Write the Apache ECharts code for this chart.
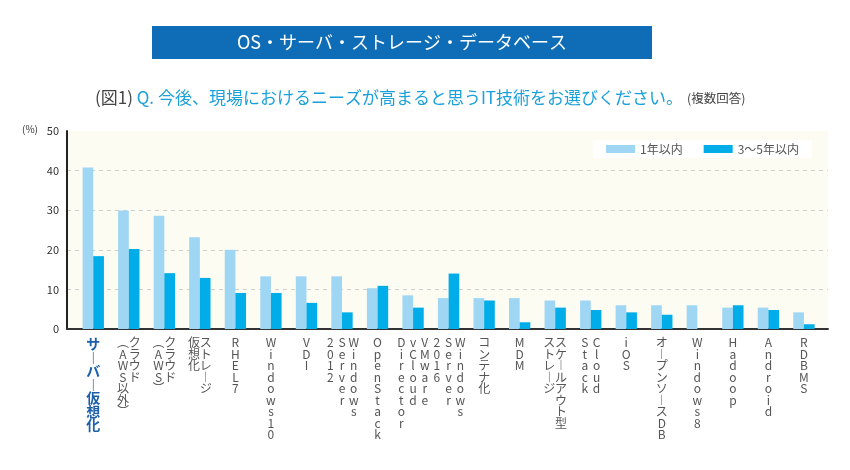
<!DOCTYPE html>
<html>
<head>
<meta charset="utf-8">
<script src="https://cdn.jsdelivr.net/npm/echarts@6/dist/echarts.min.js"></script>
<style>
html,body{margin:0;padding:0;background:#fff;}
#c{width:850px;height:470px;}
</style>
</head>
<body>
<div id="c"></div>
<script>
// Categories: '\n' separates vertical columns (first = rightmost column)
var categories = [
  'サーバー仮想化', 'クラウド\n(AWS以外)', 'クラウド\n(AWS)', 'ストレージ\n仮想化', 'RHEL7',
  'Windows10', 'VDI', 'Windows\nServer\n2012', 'OpenStack', 'VMware\nvCloud\nDirector',
  'Windows\nServer\n2016', 'コンテナ化', 'MDM', 'スケールアウト型\nストレージ', 'Cloud\nStack',
  'iOS', 'オープンソースDB', 'Windows8', 'Hadoop', 'Android', 'RDBMS'
];
var seriesNames = ['1年以内', '3〜5年以内'];
var within1Year = [40.8, 29.9, 28.6, 23.2, 20.0, 13.3, 13.3, 13.3, 10.3, 8.5, 7.8, 7.8, 7.8, 7.2, 7.2, 6.0, 6.0, 6.0, 5.4, 5.4, 4.2];
var within3to5Years = [18.4, 20.2, 14.1, 12.9, 9.1, 9.1, 6.6, 4.2, 10.9, 5.4, 14.0, 7.2, 1.7, 5.4, 4.8, 4.2, 3.6, 0, 6.0, 4.8, 1.2];
var yTicks = [0, 10, 20, 30, 40, 50];
var titleText = 'OS・サーバ・ストレージ・データベース';
var subtitleFig = '(図1) ';
var subtitleQ = 'Q. 今後、現場におけるニーズが高まると思うIT技術をお選びください。';
var subtitleNote = '(複数回答)';

var verticalMap = {'(': '︵', ')': '︶', 'ー': '︱'};

function verticalLabel(value, index) {
  var style = index === 0 ? 'b' : 'c';
  var cols = String(value).split('\n').map(function (s) {
    return Array.from(s).map(function (ch) { return verticalMap[ch] || ch; });
  });
  cols.reverse(); // leftmost column first
  var rows = 0;
  cols.forEach(function (c) { rows = Math.max(rows, c.length); });
  var lines = [];
  for (var r = 0; r < rows; r++) {
    var line = '';
    for (var k = 0; k < cols.length; k++) {
      var ch = cols[k][r];
      line += '{' + style + '|' + (ch === undefined ? ' ' : ch) + '}';
    }
    lines.push(line);
  }
  return lines.join('\n');
}

var chart = echarts.init(document.getElementById('c'), null, {renderer: 'canvas'});
var FONT = '"Noto Sans CJK JP", "Noto Sans", sans-serif';

chart.setOption({
  backgroundColor: '#ffffff',
  animation: false,
  textStyle: {fontFamily: FONT},
  graphic: [
    {type: 'rect', z: 10, shape: {x: 152, y: 26, width: 500, height: 33}, style: {fill: '#0F6DB7'}},
    {type: 'text', z: 11, x: 402, y: 42.5, style: {text: titleText, fill: '#ffffff', font: '18px ' + FONT, textAlign: 'center', textVerticalAlign: 'middle'}},
    {type: 'text', z: 11, x: 22, y: 124, style: {text: '(%)', fill: '#333333', font: '10px ' + FONT}}
  ],
  title: [{
    text: '{a|' + subtitleFig + '}{q|' + subtitleQ + '} {s|' + subtitleNote + '}',
    left: 90, top: 84,
    textStyle: {
      fontWeight: 'normal',
      rich: {
        a: {fontSize: 17, fontWeight: 'normal', color: '#444444', fontFamily: FONT},
        q: {fontSize: 17, fontWeight: 'normal', color: '#1AA0DA', fontFamily: FONT},
        s: {fontSize: 12.5, fontWeight: 'normal', color: '#444444', fontFamily: FONT}
      }
    }
  }],
  legend: {
    data: seriesNames,
    left: 593, top: 140,
    backgroundColor: '#ffffff',
    padding: [3, 13, 3, 13],
    itemWidth: 29, itemHeight: 8, itemGap: 21,
    icon: 'rect',
    textStyle: {fontSize: 12, color: '#555555', fontFamily: FONT}
  },
  grid: [
    {left: 67, right: 22, top: 131, bottom: 141, show: true, backgroundColor: '#FDFCF2', borderWidth: 0},
    {left: 75.5, width: 746.2, top: 131, bottom: 141}
  ],
  xAxis: [
    {type: 'value', gridIndex: 0, min: 0, max: 1,
     axisLine: {show: true, lineStyle: {color: '#333333', width: 2}},
     axisTick: {show: false}, axisLabel: {show: false}, splitLine: {show: false}},
    {type: 'category', gridIndex: 1, data: categories,
     axisLine: {show: false}, axisTick: {show: false},
     axisLabel: {
       interval: 0, margin: 8, formatter: verticalLabel,
       rich: {
         c: {width: 11.7, align: 'center', fontSize: 12, lineHeight: 11.5, color: '#555555', fontFamily: FONT},
         b: {width: 15, align: 'center', fontSize: 14, fontWeight: 'bold', lineHeight: 13.5, color: '#1B5FA8', fontFamily: FONT}
       }
     }}
  ],
  yAxis: [
    {type: 'value', gridIndex: 0, min: yTicks[0], max: yTicks[yTicks.length - 1], interval: 10,
     axisLine: {show: true, lineStyle: {color: '#222222', width: 2}},
     axisTick: {show: false},
     axisLabel: {margin: 8, fontSize: 11, color: '#333333', fontFamily: FONT},
     splitLine: {show: true, showMinLine: false, showMaxLine: false, lineStyle: {color: '#CFCFCF', type: [4, 4], width: 1}}},
    {type: 'value', gridIndex: 1, min: 0, max: 50, show: false}
  ],
  series: [
    {name: seriesNames[0], type: 'bar', xAxisIndex: 1, yAxisIndex: 1, data: within1Year,
     barWidth: '30%', barGap: '0%', itemStyle: {color: '#9FD6F4'}},
    {name: seriesNames[1], type: 'bar', xAxisIndex: 1, yAxisIndex: 1, data: within3to5Years,
     barWidth: '30%', barGap: '0%', itemStyle: {color: '#00ADE9'}}
  ]
});
</script>
</body>
</html>
